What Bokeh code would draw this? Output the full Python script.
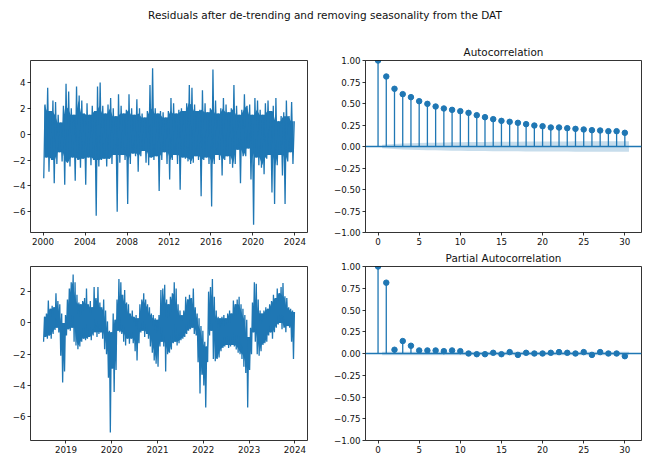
import numpy as np
from bokeh.plotting import figure
from bokeh.models import Div, FixedTicker, CustomJSTickFormatter, Range1d, Span, LinearAxis
from bokeh.layouts import column, row
from bokeh.embed import file_html
from bokeh.resources import INLINE

BLUE = "#1f77b4"
FONT = "DejaVu Sans"
SUPTITLE = "Residuals after de-trending and removing seasonality from the DAT"

# ---- top-left: quarterly high/low envelope of daily residuals, 2000-2023
top_start = 2000.0
top_step = 0.25
top_hi = [2.3, 3.6, 1.8, 2.6, 2.5, 1.5, 0.9, 2.2, 3.9, 3.3, 2.0, 1.5,
          3.7, 3.0, 2.6, 1.6, 2.4, 1.5, 2.2, 1.8, 3.7, 4.0, 2.2, 1.6,
          2.3, 2.8, 2.0, 1.4, 3.1, 2.2, 1.6, 1.9, 3.1, 2.0, 1.5, 2.7,
          2.0, 1.6, 1.3, 1.8, 3.8, 5.1, 2.0, 1.6, 1.8, 1.7, 1.3, 1.8,
          2.8, 2.4, 1.6, 1.9, 2.0, 1.8, 2.4, 3.8, 3.6, 2.3, 1.8, 1.9,
          3.4, 2.4, 1.7, 2.0, 5.0, 2.6, 1.6, 2.0, 2.8, 2.3, 1.7, 2.0,
          3.8, 2.2, 1.5, 1.9, 3.1, 2.2, 2.3, 1.5, 2.8, 2.6, 1.9, 1.5,
          2.4, 2.6, 1.8, 2.2, 2.8, 1.0, 1.4, 1.7, 2.6, 1.4, 2.5, 1.0]
top_lo = [-3.4, -1.8, -2.9, -2.0, -3.8, -2.3, -1.4, -2.1, -3.9, -2.2, -2.5, -1.8,
          -3.6, -2.0, -2.6, -1.9, -3.9, -1.8, -2.4, -2.0, -6.3, -2.5, -2.0, -1.9,
          -2.5, -1.9, -2.3, -1.6, -6.0, -2.2, -1.6, -2.0, -5.4, -2.3, -1.5, -1.7,
          -2.9, -1.7, -1.3, -2.2, -2.4, -1.8, -2.0, -1.7, -4.4, -2.0, -1.4, -2.3,
          -3.5, -2.0, -1.6, -2.3, -4.3, -1.8, -1.9, -2.1, -2.3, -2.2, -1.7, -2.0,
          -4.8, -2.0, -1.8, -2.3, -5.6, -2.3, -1.6, -2.0, -3.2, -2.0, -1.7, -2.3,
          -2.6, -2.3, -1.2, -3.8, -1.7, -1.7, -1.1, -3.5, -7.0, -1.8, -2.4, -2.6,
          -3.1, -1.9, -1.6, -4.5, -5.4, -2.4, -1.6, -3.2, -5.4, -2.1, -1.4, -2.3]
top_ticks = [2000, 2004, 2008, 2012, 2016, 2020, 2024]

# ---- bottom-left: half-monthly high/low envelope, mid-2018 to end-2023
bot_start = 2018.5
bot_step = 1.0 / 24
bot_hi = [0.4, 0.6, 1.44, 0.9, 1.1, 1.0, 1.9, 1.4, 1.2, 0.6, 0.0, 0.5,
          1.5, 2.2, 2.6, 3.1, 2.6, 1.8, 1.3, 1.2, 1.4, 1.6, 2.2, 1.2,
          1.4, 1.0, 2.3, 1.6, 2.3, 1.3, 1.0, 1.5, 0.8, 0.1, -0.5, -0.6,
          0.6, 0.2, 1.5, 2.8, 2.6, 1.8, 2.1, 1.3, 1.2, 0.6, 0.8, 0.4,
          0.5, 0.3, 1.2, 1.5, 1.9, 1.5, 1.2, 1.0, 0.6, 0.5, 0.3, 0.2,
          0.5, 2.1, 2.2, 2.44, 1.5, 1.2, 1.67, 1.9, 2.6, 2.2, 1.2, 0.8,
          0.5, 0.8, 1.67, 1.5, 1.8, 1.6, 2.2, 1.0, 0.6, 0.3, -0.2, -0.5,
          -1.2, -1.5, 2.0, 2.3, 2.8, 1.67, 0.8, 0.4, 0.3, 0.4, 0.5, 0.3,
          0.6, 0.8, 0.6, 1.44, 1.2, 1.5, 1.67, 1.2, 0.9, 0.5, 0.2, -0.9,
          -0.3, 1.3, 2.6, 2.5, 1.5, 0.8, 0.6, 0.8, 1.0, 0.9, 1.2, 1.4,
          1.8, 1.6, 2.2, 1.9, 2.3, 2.55, 1.7, 1.6, 1.0, 0.9, 0.8, 0.7]
bot_lo = [-1.2, -0.9, -1.0, -0.8, -1.0, -0.7, -0.45, -0.3, -0.6, -2.1, -3.8, -3.1,
          -0.8, -0.4, -0.5, -0.3, -1.2, -1.44, -1.67, -1.5, -1.2, -1.0, -1.1, -1.0,
          -0.9, -1.1, -0.8, -0.6, -0.9, -0.7, -0.6, -1.0, -1.67, -2.0, -3.5, -7.0,
          -2.9, -4.4, -3.0, -0.5, -0.6, -0.7, -1.2, -1.44, -1.0, -1.33, -1.0, -1.3,
          -1.8, -2.4, -1.3, -0.6, -0.5, -0.9, -0.7, -1.0, -1.5, -1.9, -2.4, -2.6,
          -2.8, -1.5, -1.2, -1.5, -3.1, -2.0, -1.9, -1.7, -1.3, -1.2, -1.44, -1.3,
          -1.1, -1.0, -0.9, -0.7, -0.5, -0.4, -0.3, -0.7, -0.8, -2.5, -4.5, -3.3,
          -4.0, -5.4, -2.5, -0.8, -0.5, -2.3, -2.44, -2.3, -2.2, -1.8, -1.6, -1.5,
          -1.4, -1.6, -1.5, -1.4, -1.5, -1.7, -1.9, -2.0, -2.3, -2.8, -3.2, -5.4,
          -3.0, -2.0, -0.6, -1.2, -2.0, -2.1, -1.8, -1.4, -1.3, -1.2, -0.8, -0.6,
          -1.0, -0.6, -0.3, -0.1, 0.0, -0.4, -0.3, -0.6, -0.2, -0.3, -1.2, -2.3]
bot_ticks = [2019, 2020, 2021, 2022, 2023, 2024]

# ---- autocorrelation / partial autocorrelation
lags = list(range(31))
acf_vals = [1.0, 0.814, 0.671, 0.609, 0.574, 0.527, 0.496, 0.465, 0.442, 0.426,
            0.411, 0.391, 0.364, 0.341, 0.318, 0.298, 0.287, 0.275, 0.260, 0.244,
            0.236, 0.221, 0.221, 0.213, 0.205, 0.198, 0.190, 0.186, 0.178, 0.178,
            0.159]
acf_band = [0.020, 0.030, 0.035, 0.038, 0.041, 0.043, 0.045, 0.047, 0.048, 0.050,
            0.051, 0.052, 0.053, 0.054, 0.055, 0.055, 0.056, 0.057, 0.057, 0.058,
            0.058, 0.059, 0.059, 0.060, 0.060, 0.060, 0.061, 0.061, 0.061, 0.062]
pacf_vals = [1.0, 0.814, 0.043, 0.143, 0.089, 0.035, 0.035, 0.035, 0.027, 0.035,
             0.027, 0.0, -0.008, -0.008, 0.008, -0.008, 0.016, -0.016, 0.008, 0.0,
             0.0, 0.008, 0.016, 0.008, 0.0, 0.016, -0.016, 0.016, 0.0, 0.0,
             -0.031]
pacf_band = [0.021] * 30
corr_yticks = [-1.0, -0.75, -0.5, -0.25, 0.0, 0.25, 0.5, 0.75, 1.0]
lag_ticks = [0, 5, 10, 15, 20, 25, 30]

MINUS_INT = CustomJSTickFormatter(code="return tick.toFixed(0).replace('-', '\\u2212');")
MINUS_2 = CustomJSTickFormatter(code="return tick.toFixed(2).replace('-', '\\u2212');")


def style(p, xticks, yticks, yfmt):
    p.outline_line_color = None
    p.grid.visible = False
    p.background_fill_color = "white"
    p.border_fill_color = "white"
    xa = p.below[0]
    ya = p.left[0]
    for ax, ticks, fmt in ((xa, xticks, MINUS_INT), (ya, yticks, yfmt)):
        ax.ticker = FixedTicker(ticks=ticks)
        ax.formatter = fmt
        ax.axis_line_color = "black"
        ax.axis_line_width = 0.8
        ax.minor_tick_line_color = None
        ax.major_tick_line_color = "black"
        ax.major_tick_line_width = 0.8
        ax.major_tick_out = 3
        ax.major_tick_in = 0
        ax.major_label_text_font = FONT
        ax.major_label_text_font_size = "8.7px"
        ax.major_label_text_color = "#111111"
        ax.major_label_standoff = 2
    for loc in ("right", "above"):
        ax = LinearAxis(ticker=FixedTicker(ticks=[]), major_tick_line_color=None,
                        minor_tick_line_color=None, axis_line_color="black",
                        axis_line_width=0.8, major_label_standoff=0, axis_label_standoff=0)
        p.add_layout(ax, loc)


def zigzag(start, step, hi, lo):
    xs, ys = [], []
    for i, (h, l) in enumerate(zip(hi, lo)):
        xs += [start + (i + 0.25) * step, start + (i + 0.75) * step]
        ys += [l, h]
    return xs, ys


def core(start, step, hi, lo):
    n = len(hi)
    xc = [start + (i + 0.5) * step for i in range(n)]
    ch = [min(hi[max(0, i - 1):i + 2]) for i in range(n)]
    cl = [max(lo[max(0, i - 1):i + 2]) for i in range(n)]
    return xc, cl, ch


def series_fig(start, step, hi, lo, ticks, yticks, mb_top, mb_bottom, height):
    xs, ys = zigzag(start, step, hi, lo)
    xc, cl, ch = core(start, step, hi, lo)
    x0, x1 = start, start + step * len(hi)
    xm = 0.05 * (x1 - x0)
    y0, y1 = min(lo), max(hi)
    ym = 0.05 * (y1 - y0)
    p = figure(width=330, height=height, output_backend="svg", toolbar_location=None,
               tools="", x_range=Range1d(x0 - xm, x1 + xm), y_range=Range1d(y0 - ym, y1 + ym),
               min_border_left=30, min_border_right=23, min_border_top=mb_top,
               min_border_bottom=mb_bottom)
    p.varea(x=xc, y1=cl, y2=ch, fill_color=BLUE)
    p.line(xs, ys, line_color=BLUE, line_width=1.3)
    style(p, ticks, yticks, MINUS_INT)
    return p


def corr_fig(vals, band, title, mb_top, mb_bottom, height):
    p = figure(width=320, height=height, output_backend="svg", toolbar_location=None,
               tools="", x_range=Range1d(-0.05 * 30.5, 30.5 + 0.05 * 30.5), y_range=Range1d(-1, 1),
               min_border_left=33, min_border_right=9, min_border_top=mb_top,
               min_border_bottom=mb_bottom)
    p.segment(x0=lags, y0=[0] * len(lags), x1=lags, y1=vals, line_color=BLUE, line_width=1.3)
    p.add_layout(Span(location=0, dimension="width", line_color=BLUE, line_width=1.3))
    p.scatter(lags, vals, size=5.5, fill_color=BLUE, line_color=BLUE)
    bx = [float(l) for l in lags[1:]]
    bx[0] -= 0.5
    bx[-1] += 0.5
    p.varea(x=bx, y1=[-b for b in band], y2=band, fill_color=BLUE, fill_alpha=0.25)
    p.title.text = title
    p.title.align = "center"
    p.title.text_font = FONT
    p.title.text_font_size = "10.4px"
    p.title.text_font_style = "normal"
    p.title.text_color = "#111111"
    p.title.standoff = 5
    style(p, lag_ticks, corr_yticks, MINUS_2)
    return p


p1 = series_fig(top_start, top_step, top_hi, top_lo, top_ticks, [-6, -4, -2, 0, 2, 4], 22, 15, 209)
p2 = corr_fig(acf_vals, acf_band, "Autocorrelation", 22, 15, 209)
p3 = series_fig(bot_start, bot_step, bot_hi, bot_lo, bot_ticks, [-6, -4, -2, 0, 2], 19, 16, 209)
p4 = corr_fig(pacf_vals, pacf_band, "Partial Autocorrelation", 19, 16, 209)

head = Div(text=SUPTITLE, width=650, height=38, margin=(0, 0, 0, 0),
           styles={"font-family": FONT, "font-size": "10.5px", "text-align": "center",
                   "color": "#111111", "line-height": "30px", "width": "650px"})

layout = column(head, row(p1, p2), row(p3, p4))
open("out.html", "w").write(file_html(layout, INLINE))
